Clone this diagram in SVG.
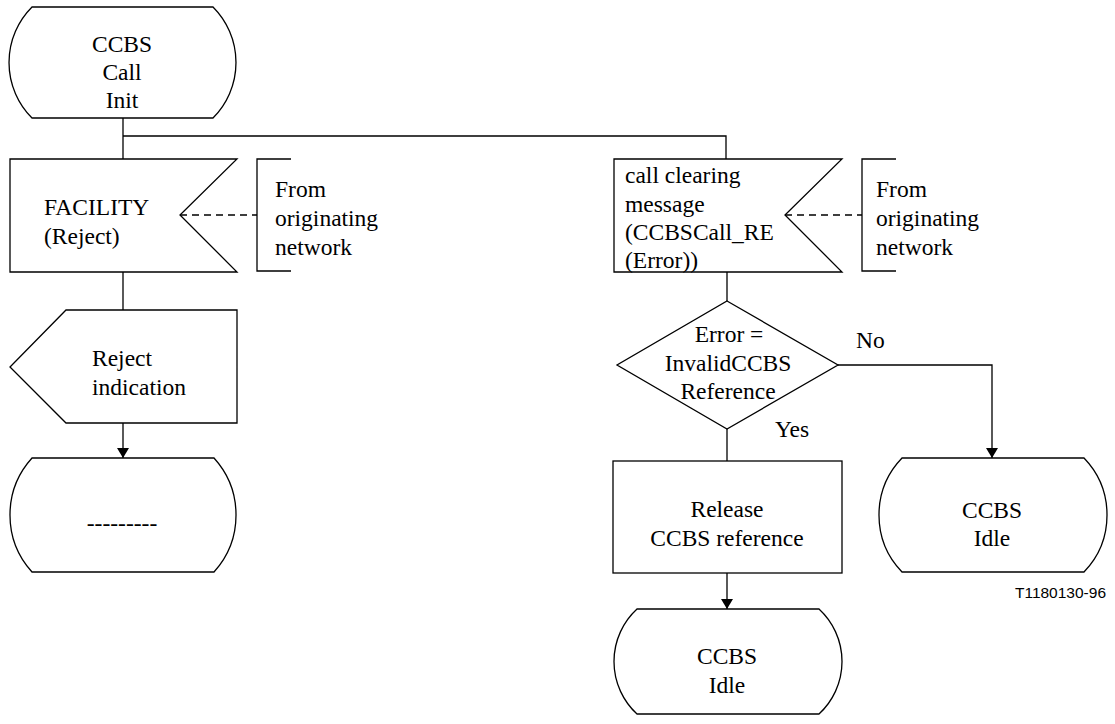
<svg xmlns="http://www.w3.org/2000/svg" width="1115" height="724" viewBox="0 0 1115 724">
<defs>
<marker id="arr" viewBox="0 0 10 12" refX="10" refY="6" markerWidth="10" markerHeight="12" markerUnits="userSpaceOnUse" orient="auto">
<path d="M0,0 L10,6 L0,12 Z" fill="#000"/>
</marker>
<style>
.s{fill:#fff;stroke:#000;stroke-width:1.3}
.l{fill:none;stroke:#000;stroke-width:1.3}
.d{fill:none;stroke:#000;stroke-width:1.3;stroke-dasharray:7 5}
.t{font-family:"Liberation Serif","Times New Roman",serif;font-size:23.5px;fill:#000}
.c{text-anchor:middle}
.f{font-family:"Liberation Sans",Arial,sans-serif;font-size:15.5px;fill:#000;text-anchor:end}
</style>
</defs>
<rect width="1115" height="724" fill="#fff"/>
<g id="connectors">
<path class="l" d="M123,118 V159"/>
<path class="l" d="M123,136 H726 V159"/>
<path class="l" d="M123,272 V310"/>
<path class="l" d="M123,423 V458" marker-end="url(#arr)"/>
<path class="l" d="M727,272 V301"/>
<path class="l" d="M838,365 H992 V458" marker-end="url(#arr)"/>
<path class="l" d="M727,429 V461"/>
<path class="l" d="M727,573 V609" marker-end="url(#arr)"/>
<path class="d" d="M180,215 H257"/>
<path class="d" d="M785,215 H862"/>
</g>
<g id="start">
<path class="s" d="M32,7 L213,7 A78.5,78.5 0 0 1 213,118 L32,118 A78.5,78.5 0 0 1 32,7 Z"/>
<text class="t c" x="122" y="52">CCBS</text>
<text class="t c" x="122" y="80">Call</text>
<text class="t c" x="122" y="108">Init</text>
</g>
<g id="facility">
<path class="s" d="M10,159 L237,159 L180,215 L237,272 L10,272 Z"/>
<text class="t" x="44" y="215">FACILITY</text>
<text class="t" x="44" y="244">(Reject)</text>
</g>
<g id="note1">
<path class="l" d="M291,159 H257 V271 H291"/>
<text class="t" x="275" y="197">From</text>
<text class="t" x="275" y="226">originating</text>
<text class="t" x="275" y="255">network</text>
</g>
<g id="reject">
<path class="s" d="M66,310 L237,310 L237,423 L66,423 L10,367 Z"/>
<text class="t" x="92" y="366">Reject</text>
<text class="t" x="92" y="395">indication</text>
</g>
<g id="state-dash">
<path class="s" d="M32,458 L214,458 A84.8,84.8 0 0 1 214,572 L32,572 A84.8,84.8 0 0 1 32,458 Z"/>
<text class="t c" x="122" y="531">---------</text>
</g>
<g id="callclearing">
<path class="s" d="M614,159 L842,159 L785,215 L842,272 L614,272 Z"/>
<text class="t" x="625" y="183">call clearing</text>
<text class="t" x="625" y="212">message</text>
<text class="t" x="625" y="240">(CCBSCall_RE</text>
<text class="t" x="625" y="268">(Error))</text>
</g>
<g id="note2">
<path class="l" d="M896,159 H862 V271 H896"/>
<text class="t" x="876" y="197">From</text>
<text class="t" x="876" y="226">originating</text>
<text class="t" x="876" y="255">network</text>
</g>
<g id="decision">
<path class="s" d="M727,301 L838,365 L727,429 L617,365 Z"/>
<text class="t c" x="729" y="342">Error =</text>
<text class="t c" x="728" y="371">InvalidCCBS</text>
<text class="t c" x="728" y="399">Reference</text>
<text class="t" x="856" y="348">No</text>
<text class="t" x="775" y="437">Yes</text>
</g>
<g id="release">
<rect class="s" x="613" y="461" width="229" height="112"/>
<text class="t c" x="727" y="517">Release</text>
<text class="t c" x="727" y="546">CCBS reference</text>
</g>
<g id="idle1">
<path class="s" d="M902,458 L1084,458 A82.1,82.1 0 0 1 1084,572 L902,572 A82.1,82.1 0 0 1 902,458 Z"/>
<text class="t c" x="992" y="518">CCBS</text>
<text class="t c" x="992" y="546">Idle</text>
</g>
<g id="idle2">
<path class="s" d="M637,609 L819,609 A71.4,71.4 0 0 1 819,714 L637,714 A71.4,71.4 0 0 1 637,609 Z"/>
<text class="t c" x="727" y="664">CCBS</text>
<text class="t c" x="727" y="693">Idle</text>
</g>
<text class="f" x="1106" y="598">T1180130-96</text>
</svg>
